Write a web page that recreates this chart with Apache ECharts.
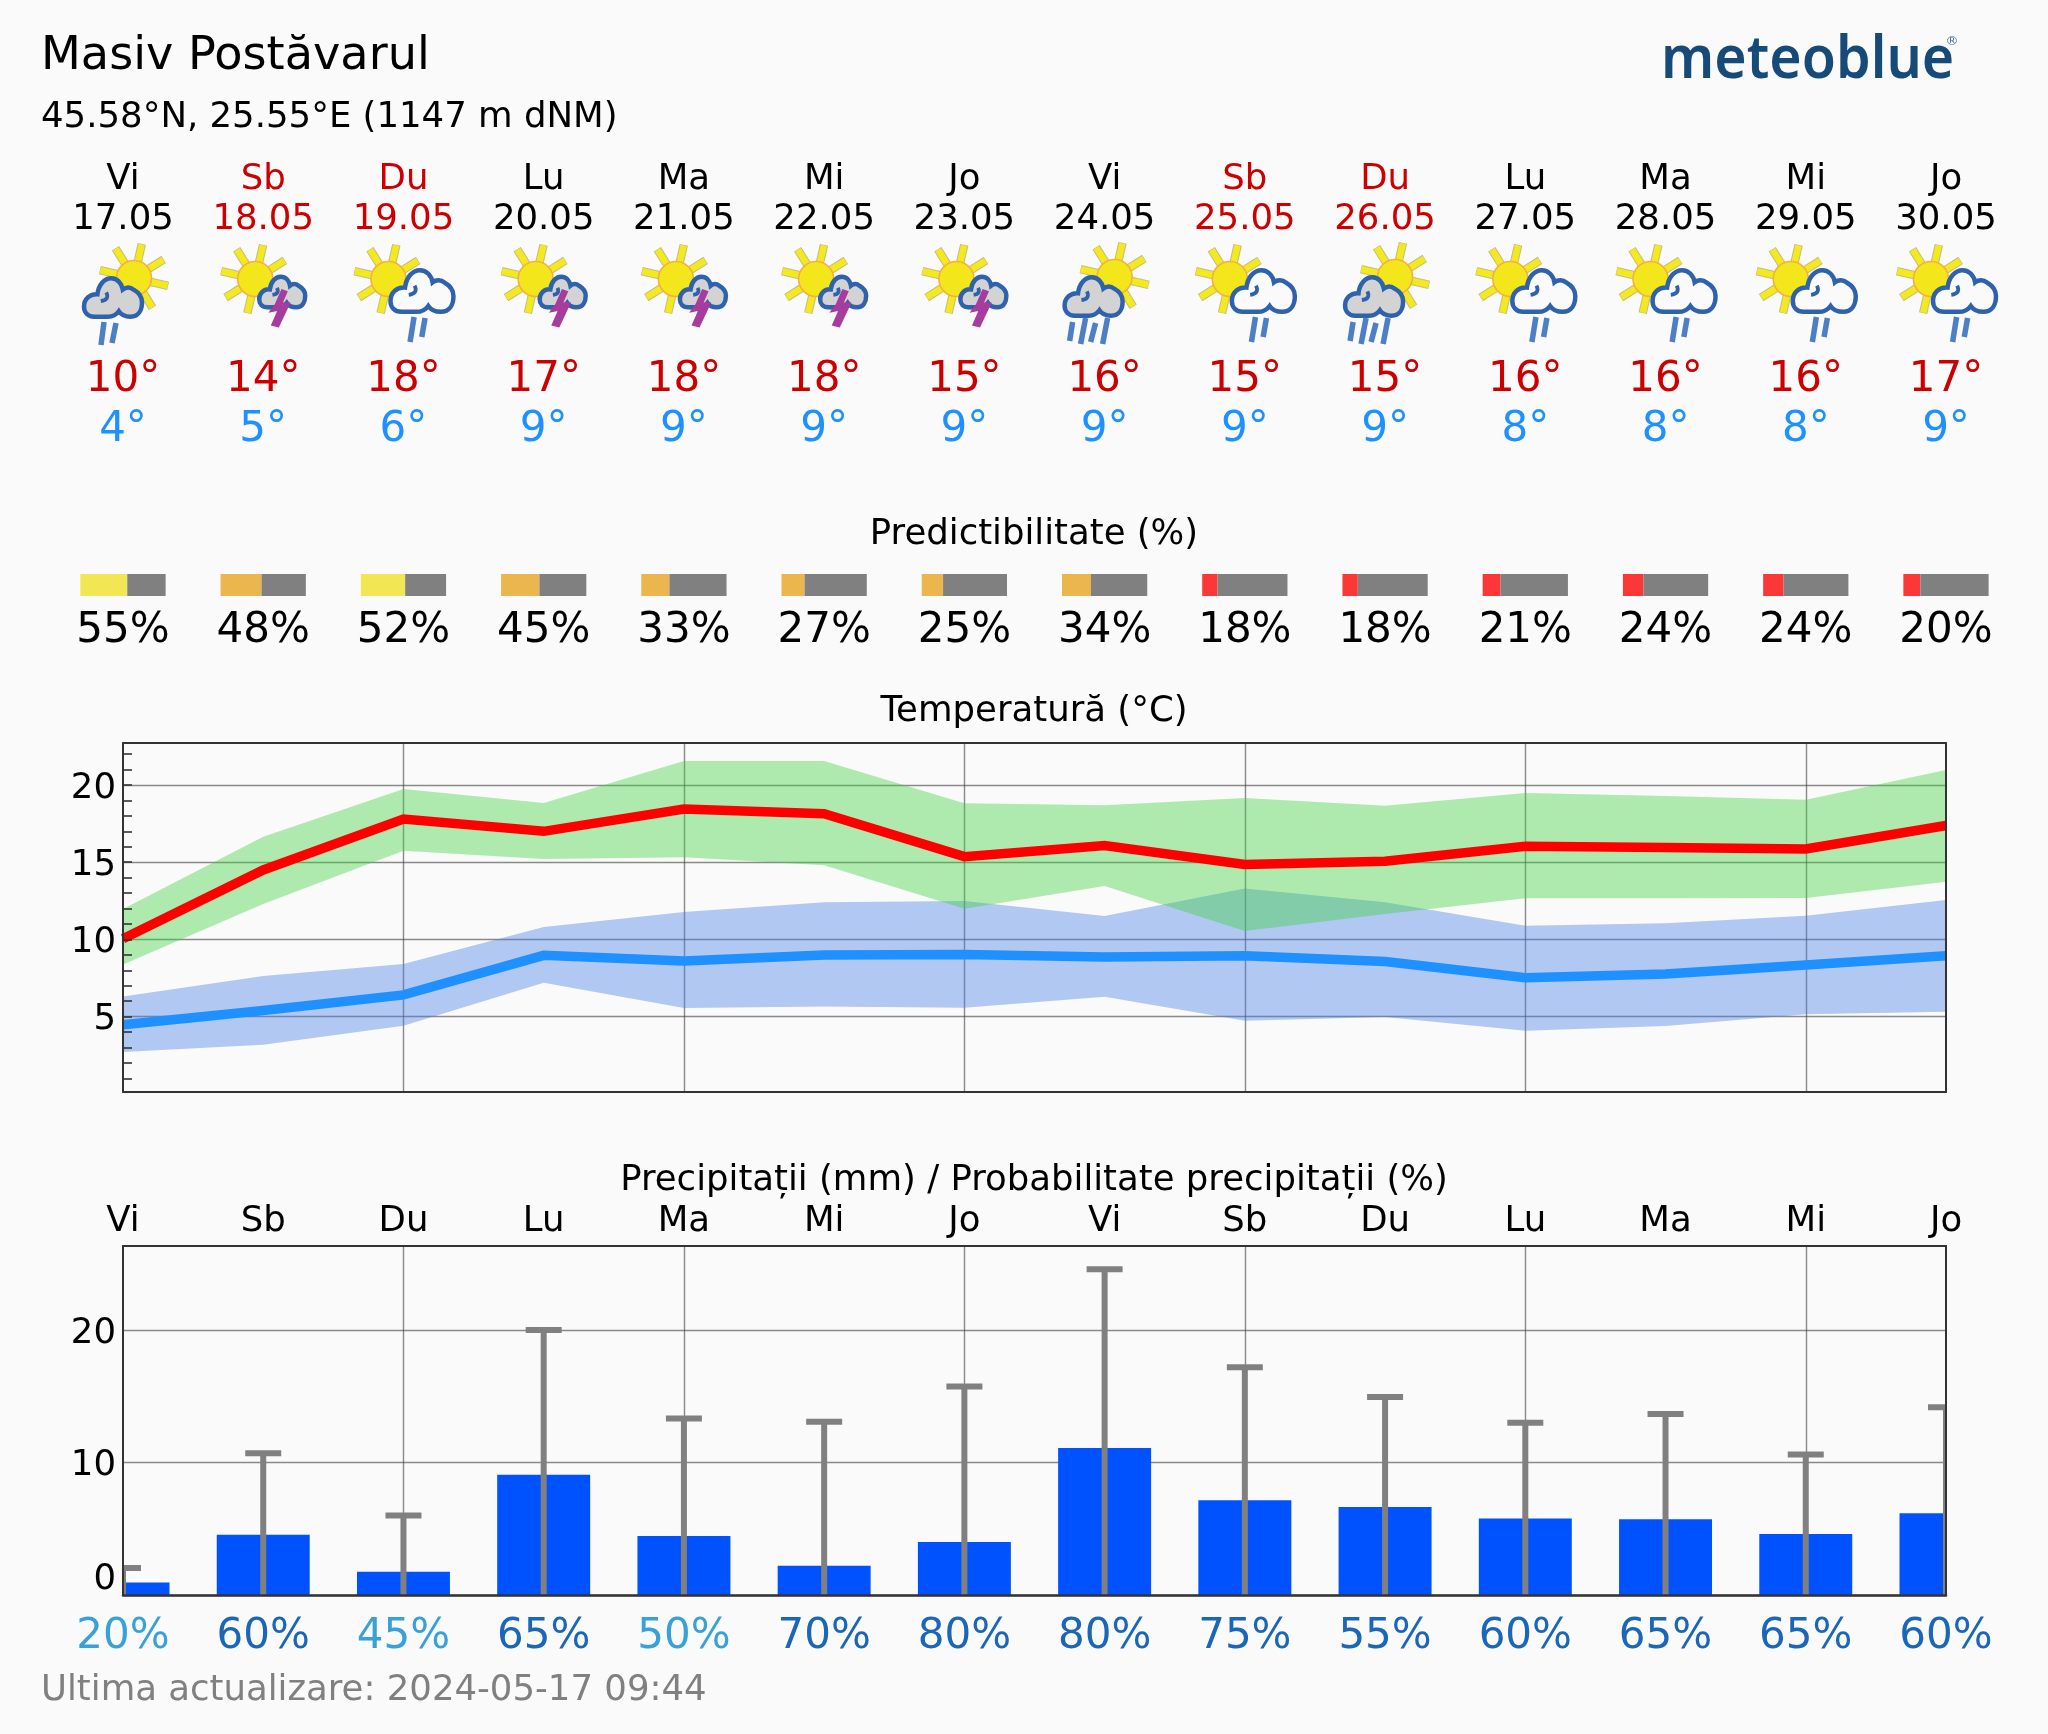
<!DOCTYPE html>
<html>
<head>
<meta charset="utf-8">
<style>html,body{margin:0;padding:0;background:#fafafa}#c{width:2048px;height:1734px}</style>
<script src="https://cdn.jsdelivr.net/npm/echarts@6/dist/echarts.min.js"></script>
</head>
<body>
<div id="c"></div>
<script>
const dayNames = ['Vi','Sb','Du','Lu','Ma','Mi','Jo','Vi','Sb','Du','Lu','Ma','Mi','Jo'];
const dates = ['17.05','18.05','19.05','20.05','21.05','22.05','23.05','24.05','25.05','26.05','27.05','28.05','29.05','30.05'];
const iconKinds = ['cloudRain','thunder','rain','thunder','thunder','thunder','thunder','cloudShower','rain','cloudShower','rain','rain','rain','rain'];
const highLabels = [10,14,18,17,18,18,15,16,15,15,16,16,16,17];
const lowLabels = [4,5,6,9,9,9,9,9,9,9,8,8,8,9];
const predictability = [55,48,52,45,33,27,25,34,18,18,21,24,24,20];
const tempMax = [10.04,14.5,17.8,17.0,18.44,18.14,15.36,16.08,14.85,15.06,16.03,15.95,15.86,17.38];
const tempMaxHigh = [11.97,16.65,19.74,18.83,21.55,21.56,18.82,18.69,19.16,18.65,19.48,19.28,19.05,20.97];
const tempMaxLow = [8.38,12.3,15.75,15.21,15.32,14.81,11.98,13.46,10.55,11.65,12.66,12.66,12.68,13.74];
const tempMin = [4.47,5.4,6.41,8.97,8.61,8.99,9.03,8.86,8.95,8.57,7.52,7.76,8.34,8.95];
const tempMinHigh = [6.31,7.63,8.41,10.8,11.77,12.4,12.49,11.52,13.29,12.4,10.89,11.05,11.53,12.55];
const tempMinLow = [2.71,3.18,4.41,7.2,5.56,5.65,5.57,6.29,4.73,4.98,4.09,4.39,5.15,5.32];
const precip = [0.94,4.55,1.76,9.08,4.45,2.2,4.0,11.1,7.15,6.65,5.77,5.72,4.6,6.17];
const precipMax = [2.04,10.7,6.0,20.0,13.33,13.08,15.74,24.6,17.2,14.95,13.0,13.67,10.6,14.17];
const precipProb = [20,60,45,65,50,70,80,80,75,55,60,65,65,60];
const tempTickLabels = [5,10,15,20];
const tempMinorTicks = [1,2,3,4,5,6,7,8,9,10,11,12,13,14,15,16,17,18,19,20,21,22];
const precipTickLabels = [0,10,20];

const FONT = '"DejaVu Sans"';
const isWeekend = d => d === 'Sb' || d === 'Du';
const diff = (a, b) => a.map((v, i) => +(v - b[i]).toFixed(2));
const predColor = p => p >= 50 ? '#f3e655' : (p >= 25 ? '#ecb64e' : '#fb3737');

const R_DAY = 180, R_DATE = 220, R_HIGH = 380, R_LOW = 430, R_PCT = 631;
const SIZE_M = 35.5, SIZE_L = 42;

function row(y, texts, size, colorFn) {
  return {
    type: 'scatter', xAxisIndex: 0, yAxisIndex: 0, symbolSize: 1, silent: true,
    itemStyle: {color: 'rgba(0,0,0,0)', opacity: 1},
    data: texts.map((t, i) => ({
      value: [i, y],
      label: {show: true, position: 'inside', formatter: String(t), fontFamily: FONT, fontSize: size,
        color: colorFn(i), align: 'center', verticalAlign: 'middle', opacity: 1}
    }))
  };
}

const CLOUD = 'M28 106 C10 106 0 94 0 78 C0 58 16 42 37 44 C40 18 56 0 75 0 C92 0 104 14 107 31 C116 24 128 24 138 32 C152 40 160 52 160 66 C160 88 150 106 128 106 C114 106 102 100 96 91 C88 102 78 106 66 106 C54 106 40 106 28 106 Z';
const CURL = 'M74 40 C80 52 76 60 60 62';

function cloud(x0, y0, w, h, fill) {
  return [
    {type: 'path', shape: {pathData: CLOUD, x: x0, y: y0, width: w, height: h},
      style: {fill: fill, stroke: '#2f62ad', lineWidth: 4.5}},
    {type: 'path', shape: {pathData: CURL, x: x0 + w * 0.287, y: y0 + h * 0.37, width: w * 0.117, height: h * 0.22},
      style: {fill: 'none', stroke: '#2f62ad', lineWidth: 3.8}}
  ];
}
function sun(cx, cy) {
  const out = [];
  for (let k = 0; k < 8; k++) {
    const a = (77 + 45 * k) * Math.PI / 180;
    out.push({type: 'line', shape: {x1: cx + 15 * Math.cos(a), y1: cy - 15 * Math.sin(a), x2: cx + 35 * Math.cos(a), y2: cy - 35 * Math.sin(a)},
      style: {stroke: '#c4bc80', lineWidth: 8.5}});
    out.push({type: 'line', shape: {x1: cx + 15 * Math.cos(a), y1: cy - 15 * Math.sin(a), x2: cx + 34.5 * Math.cos(a), y2: cy - 34.5 * Math.sin(a)},
      style: {stroke: '#f4e81e', lineWidth: 6.5}});
  }
  out.push({type: 'circle', shape: {cx: cx, cy: cy, r: 17.5}, style: {fill: '#f3e71b', stroke: '#f6b13c', lineWidth: 1.6}});
  return out;
}
function strokes(list) {
  return list.map(s => ({type: 'line', shape: {x1: s[0], y1: s[1], x2: s[2], y2: s[3]},
    style: {stroke: '#4c7fc6', lineWidth: 5.5}}));
}
const icons = {
  cloudRain: () => [].concat(sun(11, 278), cloud(-39, 278, 58, 39, '#d3d3d3'),
    strokes([[-19, 322, -22, 345], [-7, 323, -11, 343]])),
  cloudShower: () => [].concat(sun(10, 277), cloud(-40, 277, 58, 39, '#d3d3d3'),
    strokes([[-32, 322, -35, 341], [-19, 318, -24, 344], [-9, 323, -14, 342], [3, 318, -2, 344]])),
  thunder: () => [].concat(sun(-8, 279), cloud(-4, 276, 46, 32, '#d3d3d3'),
    [{type: 'polygon', shape: {points: [[18.6,290],[12,305],[7,311.7],[15.2,310],[8.6,325],[15.2,326.7],[26.2,303.3],[18.6,303.3],[23.6,291.7]]},
      style: {fill: '#a63c9e', stroke: '#a63c9e', lineWidth: 1.5}}]),
  rain: () => [].concat(sun(-15, 279), cloud(-13, 270, 63, 42, '#fafafa'),
    strokes([[10.6, 317, 6.6, 342], [21.6, 318, 18.3, 337]]))
};

const headerSeries = [
  row(R_DAY, dayNames, SIZE_M, i => isWeekend(dayNames[i]) ? '#cc0000' : '#000'),
  row(R_DATE, dates, SIZE_M, i => isWeekend(dayNames[i]) ? '#cc0000' : '#000'),
  row(R_HIGH, highLabels.map(v => v + '°'), SIZE_L, () => '#cc0000'),
  row(R_LOW, lowLabels.map(v => v + '°'), SIZE_L, () => '#1e90ff'),
  row(R_PCT, predictability.map(v => v + '%'), SIZE_L, () => '#000'),
  {
    type: 'custom', xAxisIndex: 0, yAxisIndex: 0, silent: true, data: iconKinds.map((k, i) => [i, 0]),
    renderItem: (params, api) => {
      const x = api.coord([params.dataIndex, 0])[0];
      return {type: 'group', x: x, y: 0, children: icons[iconKinds[params.dataIndex]]()};
    }
  },
  {
    type: 'custom', xAxisIndex: 0, yAxisIndex: 0, silent: true, data: predictability.map((p, i) => [i, p]),
    renderItem: (params, api) => {
      const i = params.dataIndex, p = predictability[i];
      const x = api.coord([i, 0])[0], half = api.size([1, 0])[0] * 0.304;
      const y0 = api.coord([i, 574])[1], y1 = api.coord([i, 596])[1];
      const split = x - half + 2 * half * p / 100;
      return {type: 'group', children: [
        {type: 'rect', shape: {x: x - half, y: y0, width: split - x + half, height: y1 - y0}, style: {fill: predColor(p)}},
        {type: 'rect', shape: {x: split, y: y0, width: x + half - split, height: y1 - y0}, style: {fill: '#808080'}}
      ]};
    }
  }
];

function band(name, low, high, color) {
  return [
    {type: 'line', name: name + 'base', xAxisIndex: 1, yAxisIndex: 1, stack: name, data: low, symbol: 'none', silent: true,
      lineStyle: {opacity: 0}, z: 2},
    {type: 'line', name: name, xAxisIndex: 1, yAxisIndex: 1, stack: name, data: diff(high, low), symbol: 'none', silent: true,
      lineStyle: {opacity: 0}, areaStyle: {color: color, opacity: 1}, z: 2}
  ];
}
const tempLine = (data, color) => ({type: 'line', xAxisIndex: 1, yAxisIndex: 1, data: data, symbol: 'none', silent: true,
  lineStyle: {color: color, width: 9.5, join: 'miter', cap: 'butt'}, z: 4});

const chartSeries = [].concat(
  band('minband', tempMinLow, tempMinHigh, 'rgba(67,125,232,0.4)'),
  band('maxband', tempMaxLow, tempMaxHigh, 'rgba(60,210,60,0.4)'),
  [tempLine(tempMax, '#ff0000'), tempLine(tempMin, '#1e90ff')],
  [
    {type: 'custom', xAxisIndex: 2, yAxisIndex: 3, silent: true, clip: true, z: 3,
      data: precip.map((v, i) => [i, v]),
      encode: {x: 0, y: 1},
      renderItem: (params, api) => {
        const i = params.dataIndex;
        const top = api.coord([i, api.value(1)]), base = api.coord([i, 0]);
        const half = api.size([1, 0])[0] * 0.3315;
        return {type: 'rect', shape: {x: top[0] - half, y: top[1], width: 2 * half, height: base[1] - top[1]},
          style: {fill: '#0052ff'}};
      }},
    {type: 'custom', xAxisIndex: 2, yAxisIndex: 3, silent: true, clip: true, z: 4,
      data: precipMax.map((v, i) => [i, v]),
      encode: {x: 0, y: 1},
      renderItem: (params, api) => {
        const i = params.dataIndex;
        const top = api.coord([i, api.value(1)]), base = api.coord([i, 0]);
        const s = {stroke: '#808080', lineWidth: 6};
        return {type: 'group', children: [
          {type: 'line', shape: {x1: top[0], y1: top[1], x2: base[0], y2: base[1]}, style: s},
          {type: 'line', shape: {x1: top[0] - 18, y1: top[1], x2: top[0] + 18, y2: top[1]}, style: s}
        ]};
      }}
  ]
);

const gridLine = {color: 'rgba(64,64,64,0.6)', width: 1.4};
const frameColor = '#333';
const catAxis = extra => Object.assign({
  type: 'category', data: dayNames, boundaryGap: false,
  axisLine: {show: false}, axisTick: {show: false}, axisLabel: {show: false},
  splitLine: {show: true, interval: i => i > 0 && i % 2 === 0, lineStyle: gridLine}
}, extra);
const frameX = (gridIndex, position) => ({
  type: 'category', data: dayNames, boundaryGap: false, gridIndex: gridIndex, position: position, z: 7,
  axisLine: {show: true, onZero: false, lineStyle: {color: frameColor, width: 2}}, axisTick: {show: false}, axisLabel: {show: false}, splitLine: {show: false}
});
const frameY = (gridIndex, position, max) => ({
  type: 'value', gridIndex: gridIndex, position: position, min: 0, max: max, z: 7,
  axisLine: {show: true, onZero: false, lineStyle: {color: frameColor, width: 2}}, axisTick: {show: false}, axisLabel: {show: false}, splitLine: {show: false}
});
const yLabelStyle = {fontFamily: FONT, fontSize: SIZE_M, color: '#000'};

const sectionText = (t, y) => ({type: 'text', x: 1034, y: y, silent: true,
  style: {text: t, font: SIZE_M + 'px ' + FONT, fill: '#000', align: 'center', verticalAlign: 'middle'}});

const option = {
  backgroundColor: '#fafafa',
  animation: false,
  grid: [
    {left: 123, width: 1823, top: 0, height: 700, show: false},
    {left: 123, width: 1823, top: 743, height: 349, show: false},
    {left: 123, width: 1823, top: 1246, height: 349, show: false}
  ],
  xAxis: [
    {type: 'category', data: dayNames, boundaryGap: false, gridIndex: 0, show: false},
    catAxis({gridIndex: 1}),
    catAxis({gridIndex: 2, position: 'top',
      axisLabel: {show: true, interval: 0, margin: 6, showMinLabel: true, showMaxLabel: true, fontFamily: FONT, fontSize: SIZE_M, color: '#000'}}),
    {type: 'category', data: precipProb.map(v => v + '%'), boundaryGap: false, gridIndex: 2, position: 'bottom', z: 8,
      axisLine: {show: true, onZero: false, lineStyle: {color: frameColor, width: 2.5}}, axisTick: {show: false}, splitLine: {show: false},
      axisLabel: {show: true, interval: 0, margin: 21, showMinLabel: true, showMaxLabel: true, fontFamily: FONT, fontSize: SIZE_L,
        color: (v, i) => precipProb[i] >= 55 ? '#1a66b8' : '#38a2d8'}},
    frameX(1, 'top'), frameX(1, 'bottom'), frameX(2, 'top')
  ],
  yAxis: [
    {type: 'value', gridIndex: 0, inverse: true, min: 0, max: 700, show: false},
    {type: 'value', gridIndex: 1, min: 0.12, max: 22.72,
      axisLine: {show: false},
      axisTick: {show: false, customValues: tempTickLabels},
      axisLabel: Object.assign({customValues: tempTickLabels, margin: 7, verticalAlign: 'top', lineHeight: 7}, yLabelStyle),
      splitLine: {show: true, lineStyle: gridLine}},
    {type: 'value', gridIndex: 1, position: 'left', min: 0.12, max: 22.72, z: 7,
      axisLine: {show: true, onZero: false, lineStyle: {color: frameColor, width: 2}}, splitLine: {show: false}, axisLabel: {show: false},
      axisTick: {show: true, inside: true, length: 9, customValues: tempMinorTicks, lineStyle: {color: frameColor, width: 1.6}}},
    {type: 'value', gridIndex: 2, min: 0, max: 26.35,
      axisLine: {show: false},
      axisTick: {show: false, customValues: precipTickLabels},
      axisLabel: Object.assign({customValues: precipTickLabels, margin: 7, verticalAlign: 'top', lineHeight: 7, verticalAlignMinLabel: 'bottom',
        formatter: v => v === 0 ? '{z|0}' : '{n|' + v + '}',
        rich: {z: Object.assign({lineHeight: 30}, yLabelStyle), n: Object.assign({lineHeight: 7}, yLabelStyle)}}, yLabelStyle),
      splitLine: {show: true, lineStyle: gridLine}},
    frameY(1, 'right', 22.72), frameY(2, 'left', 26.35), frameY(2, 'right', 26.35)
  ],
  series: headerSeries.concat(chartSeries),
  graphic: [
    {type: 'text', x: 41, y: 57, silent: true, style: {text: 'Masiv Postăvarul', font: '46.2px ' + FONT, fill: '#000', verticalAlign: 'middle'}},
    {type: 'text', x: 41, y: 118, silent: true, style: {text: '45.58°N, 25.55°E (1147 m dNM)', font: SIZE_M + 'px ' + FONT, fill: '#000', verticalAlign: 'middle'}},
    {type: 'text', x: 1661, y: 31, scaleX: 0.925, silent: true, style: {text: 'meteoblue', font: '600 60px "Noto Sans"', fill: '#164a78'}},
    {type: 'text', x: 1952, y: 42, silent: true, style: {text: '®', font: '13px ' + FONT, fill: '#3a6f9c', align: 'center', verticalAlign: 'middle'}},
    sectionText('Predictibilitate (%)', 535),
    sectionText('Temperatură (°C)', 712),
    sectionText('Precipitații (mm) / Probabilitate precipitații (%)', 1181),
    {type: 'text', x: 41, y: 1691, silent: true, style: {text: 'Ultima actualizare: 2024-05-17 09:44', font: SIZE_M + 'px ' + FONT, fill: '#808080', verticalAlign: 'middle'}}
  ]
};
echarts.init(document.getElementById('c'), null, {renderer: 'canvas'}).setOption(option);
</script>
</body>
</html>
